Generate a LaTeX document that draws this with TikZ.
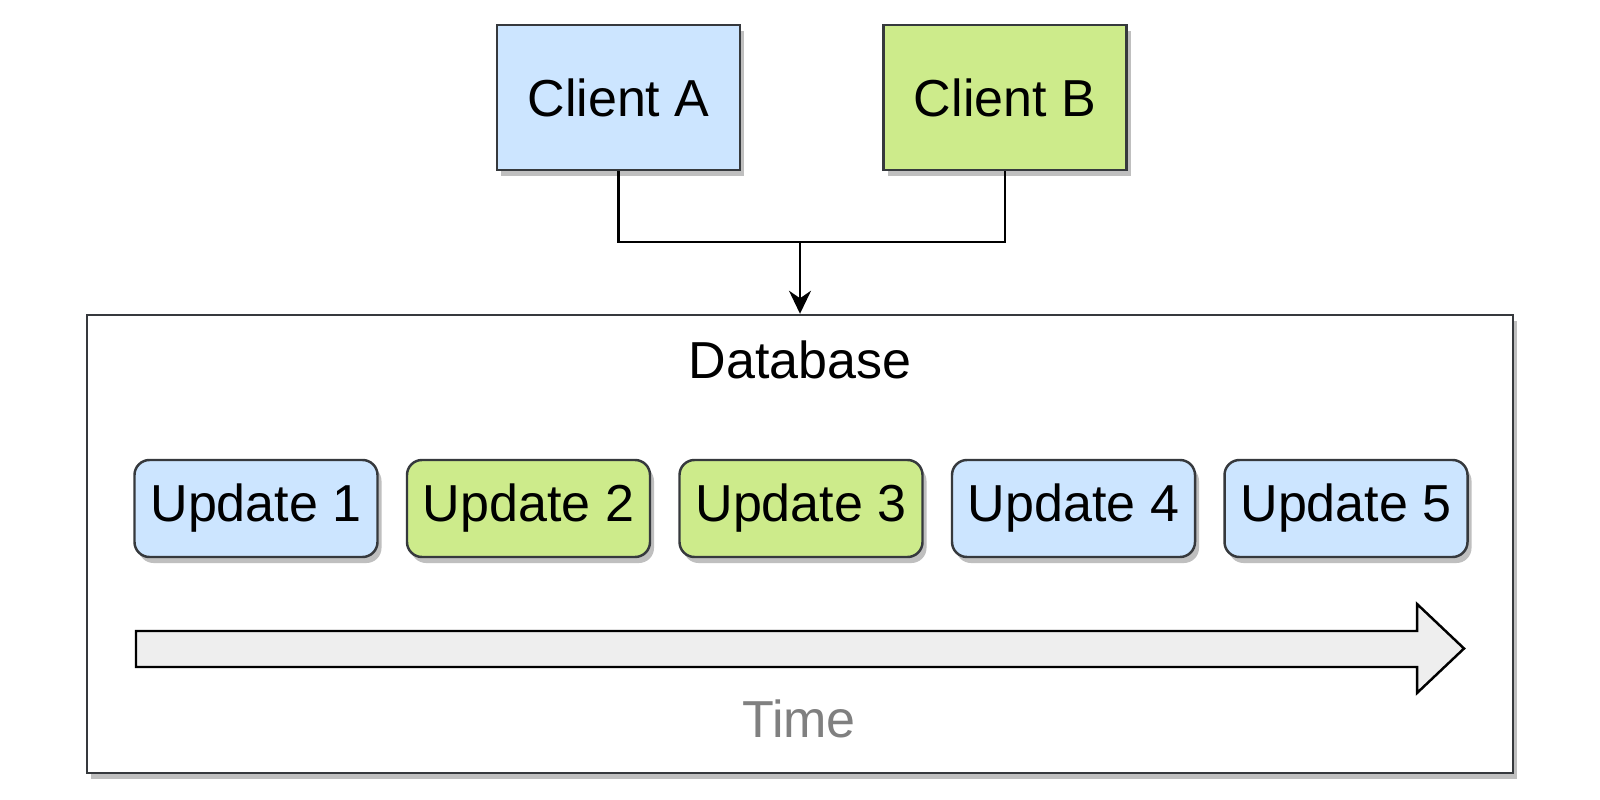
\documentclass[tikz,border=0pt]{standalone}
\usepackage{fontspec}
\setmainfont{Liberation Sans}
\usetikzlibrary{arrows.meta,shadows}
\definecolor{clientblue}{HTML}{CCE5FF}
\definecolor{clientgreen}{HTML}{CDEB8B}
\definecolor{boxline}{HTML}{36393D}
\definecolor{timefill}{HTML}{EEEEEE}
\definecolor{timetext}{HTML}{808080}
\tikzset{
  boxshadow/.style={drop shadow={shadow xshift=0.04cm, shadow yshift=-0.06cm, fill=black!25, opacity=1}},
  client/.style={draw=boxline, line width=0.7pt, boxshadow, minimum width=2.43cm, minimum height=1.45cm, inner sep=0pt},
  update/.style={draw=boxline, line width=0.7pt, rounded corners=0.15cm, boxshadow, minimum width=2.43cm, minimum height=0.97cm, inner sep=0pt},
}

\begin{document}
\begin{tikzpicture}[font=\fontsize{14.8}{17.8}\selectfont, line width=0.7pt]
	\useasboundingbox (0,0) rectangle (16,-8);
	\node[draw=boxline, line width=0.7pt, fill=white, boxshadow, minimum width=14.26cm, minimum height=4.58cm, inner sep=0pt] (db) at (8.00,-5.44) {};
	\node (dblabel) at (8.00,-3.60) {Database};
	\node[client, fill=clientblue] (ca) at (6.185,-0.975) {Client A};
	\node[client, fill=clientgreen] (cb) at (10.05,-0.975) {Client B};
	\coordinate (join) at (8.00,-2.42);
	\draw (ca.south) |- (join);
	\draw (cb.south) |- (join);
	\draw[-{Stealth[length=0.23cm, width=0.22cm]}] (join) -- (db.north);
	\node[update, fill=clientblue] (u1) at (2.56,-5.085) {Update 1};
	\node[update, fill=clientgreen] (u2) at (5.285,-5.085) {Update 2};
	\node[update, fill=clientgreen] (u3) at (8.01,-5.085) {Update 3};
	\node[update, fill=clientblue] (u4) at (10.735,-5.085) {Update 4};
	\node[update, fill=clientblue] (u5) at (13.46,-5.085) {Update 5};
	\draw[fill=timefill] (1.36,-6.31) -- (14.17,-6.31) -- (14.17,-6.04) -- (14.64,-6.485) -- (14.17,-6.93) -- (14.17,-6.67) -- (1.36,-6.67) -- cycle;
	\node[text=timetext] (time) at (7.99,-7.19) {Time};
\end{tikzpicture}
\end{document}
